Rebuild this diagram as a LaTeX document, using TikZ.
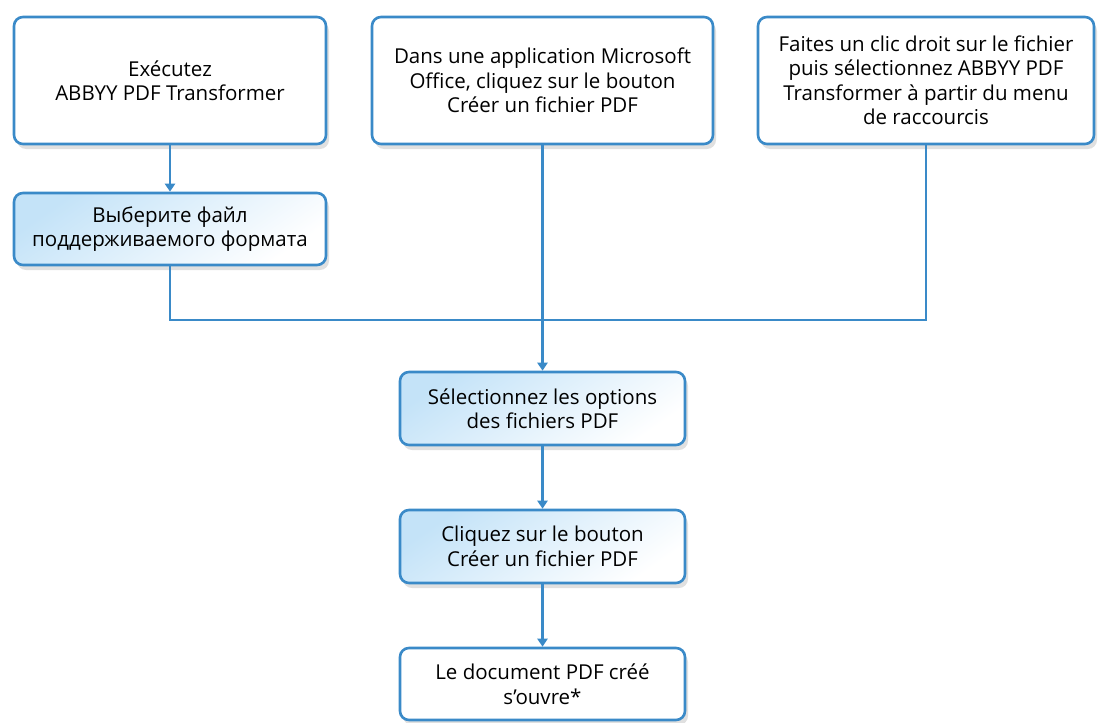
\documentclass[tikz,border=0pt]{standalone}
\usepackage{fontspec}
\setmainfont{Open Sans}
\usetikzlibrary{arrows.meta, positioning, shadows}
\definecolor{cEdge}{RGB}{58,138,200}
\definecolor{cTint}{RGB}{196,227,248}
\tikzset{
	plainbox/.style ={rectangle, rounded corners=9pt, draw=cEdge, line width=2.6pt, fill=white, align=center,
		font=\fontsize{20.5}{24.5}\selectfont, inner sep=2pt,
		drop shadow={shadow xshift=3pt, shadow yshift=-5pt, fill=black!40, opacity=0.3}},
	tintbox/.style  ={plainbox, top color=cTint, bottom color=white, shading angle=35},
	flowline/.style ={cEdge, line width=2.6pt},
	flowarrow/.style={flowline, -{Triangle[length=8pt, width=10pt]}},
}
\begin{document}
\begin{tikzpicture}[x=1pt, y=-1pt]
	\useasboundingbox (0,0) rectangle (1104,723);
	% entry points
	\node[plainbox, minimum width=312pt, minimum height=127pt] (s1) at (170,80.5) {Exécutez\\ABBYY PDF Transformer};
	\node[plainbox, minimum width=341pt, minimum height=127pt] (s2) at (542.5,80.5) {Dans une application Microsoft\\Office, cliquez sur le bouton\\Créer un fichier PDF};
	\node[plainbox, minimum width=336pt, minimum height=127pt] (s3) at (926,80.5) {Faites un clic droit sur le fichier\\puis sélectionnez ABBYY PDF\\Transformer à partir du menu\\de raccourcis};
	\node[tintbox, minimum width=312pt, minimum height=72pt] (s4) at (170,229) {Выберите файл\\поддерживаемого формата};
	% common steps
	\node[tintbox, minimum width=285pt, minimum height=73pt] (s5) at (542.5,408.5) {Sélectionnez les options\\des fichiers PDF};
	\node[tintbox, minimum width=285pt, minimum height=73pt] (s6) at (542.5,546.5) {Cliquez sur le bouton\\Créer un fichier PDF};
	\node[plainbox, minimum width=285pt, minimum height=72pt] (s7) at (542.5,684) {Le document PDF créé\\s'ouvre*};
	\coordinate (j) at (542.5,320);
	\draw[flowarrow] (s1) -- (s4);
	\draw[flowline] (s4.south) |- (j) -| (s3.south);
	\draw[flowline] (s2) -- (j);
	\draw[flowarrow] (j) -- (s5);
	\draw[flowarrow] (s5) -- (s6); \draw[flowarrow] (s6) -- (s7);
\end{tikzpicture}
\end{document}
